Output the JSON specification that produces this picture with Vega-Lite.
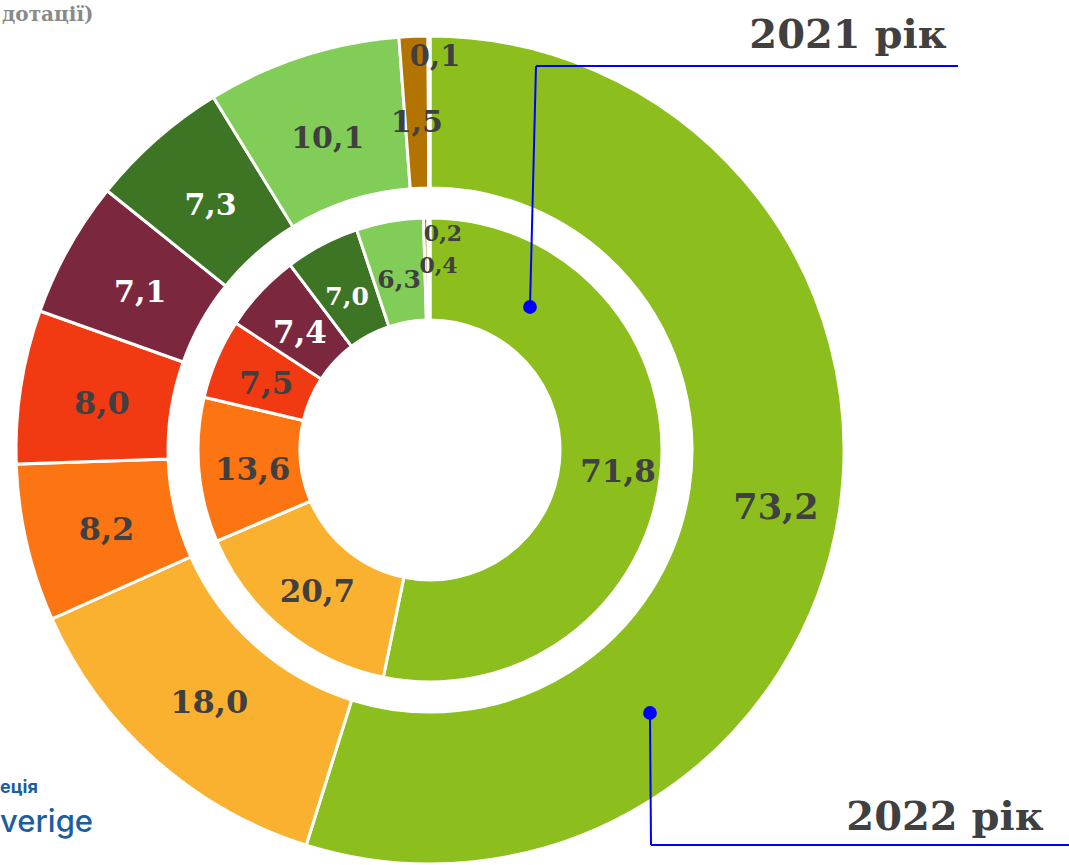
{
  "$schema": "https://vega.github.io/schema/vega-lite/v6.json",
  "width": 860,
  "height": 900,
  "autosize": {"type": "none"},
  "padding": {"left": 0, "top": 0, "right": 209, "bottom": -35},
  "background": "white",
  "config": {
    "view": {"stroke": null},
    "locale": {"number": {"decimal": ",", "thousands": " ", "grouping": [3], "currency": ["", ""]}}
  },
  "datasets": {
    "rings": [
      {"year": "2022", "cat": "k1", "i": 1, "value": 73.2},
      {"year": "2022", "cat": "k2", "i": 2, "value": 18.0},
      {"year": "2022", "cat": "k3", "i": 3, "value": 8.2},
      {"year": "2022", "cat": "k4", "i": 4, "value": 8.0},
      {"year": "2022", "cat": "k5", "i": 5, "value": 7.1},
      {"year": "2022", "cat": "k6", "i": 6, "value": 7.3},
      {"year": "2022", "cat": "k7", "i": 7, "value": 10.1},
      {"year": "2022", "cat": "k8", "i": 8, "value": 1.5},
      {"year": "2022", "cat": "k9", "i": 9, "value": 0.1},
      {"year": "2021", "cat": "k1", "i": 1, "value": 71.8},
      {"year": "2021", "cat": "k2", "i": 2, "value": 20.7},
      {"year": "2021", "cat": "k3", "i": 3, "value": 13.6},
      {"year": "2021", "cat": "k4", "i": 4, "value": 7.5},
      {"year": "2021", "cat": "k5", "i": 5, "value": 7.4},
      {"year": "2021", "cat": "k6", "i": 6, "value": 7.0},
      {"year": "2021", "cat": "k7", "i": 7, "value": 6.3},
      {"year": "2021", "cat": "k8", "i": 8, "value": 0.4},
      {"year": "2021", "cat": "k9", "i": 9, "value": 0.2}
    ],
    "callouts": [
      {"year": "2021", "x": 530, "y": 307, "x2": 536, "y2": 66},
      {"year": "2021", "x": 536, "y": 66, "x2": 958, "y2": 66},
      {"year": "2022", "x": 650, "y": 713, "x2": 651, "y2": 845},
      {"year": "2022", "x": 651, "y": 845, "x2": 1069, "y2": 845}
    ],
    "dots": [
      {"year": "2021", "x": 530, "y": 307},
      {"year": "2022", "x": 650, "y": 713}
    ],
    "yearLabels": [
      {"label": "2021 рік", "x": 848, "y": 48},
      {"label": "2022 рік", "x": 945, "y": 830}
    ]
  },
  "layer": [
    {
      "data": {"name": "rings"},
      "transform": [{"filter": "datum.year == '2022'"}],
      "encoding": {
        "theta": {"field": "value", "type": "quantitative", "stack": true},
        "order": {"field": "i", "type": "quantitative"},
        "detail": {"field": "cat", "type": "nominal"}
      },
      "layer": [
        {
          "mark": {"type": "arc", "radius": 414, "radius2": 262, "stroke": "white", "strokeWidth": 3},
          "encoding": {
            "color": {
              "field": "cat", "type": "nominal", "legend": null,
              "scale": {
                "domain": ["k1", "k2", "k3", "k4", "k5", "k6", "k7", "k8", "k9"],
                "range": ["#8CBF1E", "#FBB130", "#FD7512", "#F23A12", "#7B283E", "#3E7524", "#81CD57", "#B37300", "#A8A8A8"]
              }
            }
          }
        },
        {
          "mark": {"type": "text", "radius": 332, "dy": 5, "font": "DejaVu Serif", "fontWeight": "bold"},
          "encoding": {
            "text": {"field": "value", "type": "quantitative", "format": ".1f"},
            "color": {"condition": {"test": "datum.i == 5 || datum.i == 6", "value": "#FFFFFF"}, "value": "#404040"},
            "size": {"condition": {"test": "datum.i >= 2 && datum.i <= 4", "value": 32}, "value": 30},
            "opacity": {"condition": {"test": "datum.i == 1 || datum.i == 9", "value": 0}, "value": 1}
          }
        },
        {
          "mark": {"type": "text", "radius": 350, "dy": 5, "font": "DejaVu Serif", "fontWeight": "bold", "fontSize": 35, "color": "#404040"},
          "encoding": {
            "text": {"field": "value", "type": "quantitative", "format": ".1f"},
            "opacity": {"condition": {"test": "datum.i == 1", "value": 1}, "value": 0}
          }
        },
        {
          "mark": {"type": "text", "radius": 395, "dx": 6, "dy": 2, "font": "DejaVu Serif", "fontWeight": "bold", "fontSize": 29, "color": "#404040"},
          "encoding": {
            "text": {"field": "value", "type": "quantitative", "format": ".1f"},
            "opacity": {"condition": {"test": "datum.i == 9", "value": 1}, "value": 0}
          }
        }
      ]
    },
    {
      "data": {"name": "rings"},
      "transform": [{"filter": "datum.year == '2021'"}],
      "encoding": {
        "theta": {"field": "value", "type": "quantitative", "stack": true},
        "order": {"field": "i", "type": "quantitative"},
        "detail": {"field": "cat", "type": "nominal"}
      },
      "layer": [
        {
          "mark": {"type": "arc", "radius": 232, "radius2": 130, "stroke": "white", "strokeWidth": 3},
          "encoding": {
            "color": {"field": "cat", "type": "nominal", "legend": null}
          }
        },
        {
          "mark": {"type": "text", "radius": 178, "dy": 5, "font": "DejaVu Serif", "fontWeight": "bold"},
          "encoding": {
            "text": {"field": "value", "type": "quantitative", "format": ".1f"},
            "color": {"condition": {"test": "datum.i == 5 || datum.i == 6", "value": "#FFFFFF"}, "value": "#404040"},
            "size": {"condition": {"test": "datum.i >= 6", "value": 25}, "value": 31},
            "opacity": {"condition": {"test": "datum.i == 1 || datum.i >= 8", "value": 0}, "value": 1}
          }
        },
        {
          "mark": {"type": "text", "radius": 189, "dy": 4, "font": "DejaVu Serif", "fontWeight": "bold", "fontSize": 31, "color": "#404040"},
          "encoding": {
            "text": {"field": "value", "type": "quantitative", "format": ".1f"},
            "opacity": {"condition": {"test": "datum.i == 1", "value": 1}, "value": 0}
          }
        },
        {
          "mark": {"type": "text", "radius": 186, "dx": 12, "dy": 2, "font": "DejaVu Serif", "fontWeight": "bold", "fontSize": 22, "color": "#404040"},
          "encoding": {
            "text": {"field": "value", "type": "quantitative", "format": ".1f"},
            "opacity": {"condition": {"test": "datum.i == 8", "value": 1}, "value": 0}
          }
        },
        {
          "mark": {"type": "text", "radius": 218, "dx": 14, "dy": 2, "font": "DejaVu Serif", "fontWeight": "bold", "fontSize": 22, "color": "#404040"},
          "encoding": {
            "text": {"field": "value", "type": "quantitative", "format": ".1f"},
            "opacity": {"condition": {"test": "datum.i == 9", "value": 1}, "value": 0}
          }
        }
      ]
    },
    {
      "data": {"name": "callouts"},
      "mark": {"type": "rule", "color": "#0000FF", "strokeWidth": 2},
      "encoding": {
        "x": {"field": "x", "type": "quantitative", "axis": null, "scale": {"domain": [0, 860], "nice": false, "zero": false}},
        "y": {"field": "y", "type": "quantitative", "axis": null, "scale": {"domain": [0, 900], "nice": false, "zero": false, "reverse": true}},
        "x2": {"field": "x2"},
        "y2": {"field": "y2"}
      }
    },
    {
      "data": {"name": "dots"},
      "mark": {"type": "point", "filled": true, "size": 190, "color": "#0000FF", "opacity": 1},
      "encoding": {
        "x": {"field": "x", "type": "quantitative"},
        "y": {"field": "y", "type": "quantitative"}
      }
    },
    {
      "data": {"name": "yearLabels"},
      "mark": {"type": "text", "font": "DejaVu Serif", "fontWeight": "bold", "fontSize": 40, "color": "#404040", "align": "center", "baseline": "alphabetic"},
      "encoding": {
        "x": {"field": "x", "type": "quantitative"},
        "y": {"field": "y", "type": "quantitative"},
        "text": {"field": "label"}
      }
    },
    {
      "data": {"values": [{"label": "дотації)", "x": 2, "y": 21}]},
      "mark": {"type": "text", "font": "DejaVu Serif", "fontWeight": "bold", "fontSize": 20, "color": "#8A8A8A", "align": "left", "baseline": "alphabetic"},
      "encoding": {
        "x": {"field": "x", "type": "quantitative"},
        "y": {"field": "y", "type": "quantitative"},
        "text": {"field": "label"}
      }
    },
    {
      "data": {"values": [{"label": "еція", "x": 0, "y": 793}]},
      "mark": {"type": "text", "font": "Inter", "fontWeight": "bold", "fontSize": 18, "color": "#1B5E9E", "align": "left", "baseline": "alphabetic"},
      "encoding": {
        "x": {"field": "x", "type": "quantitative"},
        "y": {"field": "y", "type": "quantitative"},
        "text": {"field": "label"}
      }
    },
    {
      "data": {"values": [{"label": "verige", "x": 0, "y": 832}]},
      "mark": {"type": "text", "font": "Inter", "fontWeight": 500, "fontSize": 31, "color": "#1B5E9E", "align": "left", "baseline": "alphabetic"},
      "encoding": {
        "x": {"field": "x", "type": "quantitative"},
        "y": {"field": "y", "type": "quantitative"},
        "text": {"field": "label"}
      }
    }
  ],
  "resolve": {"scale": {"theta": "independent"}}
}
